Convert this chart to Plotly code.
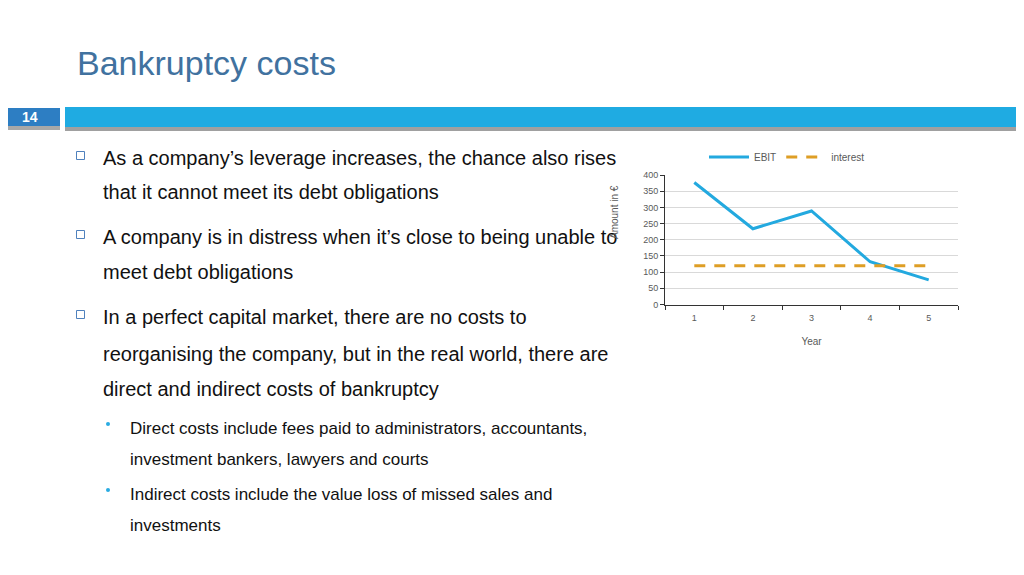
import plotly.graph_objects as go

# ---- data ----
years = ["1", "2", "3", "4", "5"]
ebit = [377, 234, 289, 132, 76]
interest = [120, 120, 120, 120, 120]

title_text = "Bankruptcy costs"
slide_no = "14"
y_title = "Amount in €"
x_title = "Year"
main_lines = [
    ("As a company’s leverage increases, the chance also rises", True),
    ("that it cannot meet its debt obligations", False),
    ("A company is in distress when it’s close to being unable to", True),
    ("meet debt obligations", False),
    ("In a perfect capital market, there are no costs to", True),
    ("reorganising the company, but in the real world, there are", False),
    ("direct and indirect costs of bankruptcy", False),
]
main_centers = [158, 192, 237, 272, 317, 354, 389]
sub_lines = [
    ("Direct costs include fees paid to administrators, accountants,", True),
    ("investment bankers, lawyers and courts", False),
    ("Indirect costs include the value loss of missed sales and", True),
    ("investments", False),
]
sub_centers = [428, 459, 494, 525]

W, H = 1024, 575
OFF = 8  # page body margin offset
def px(x):
    return (x - OFF) / W
def py(y):
    return 1 - (y - OFF) / H

FONT = "Liberation Sans, Arial, sans-serif"

fig = go.Figure()
fig.add_trace(go.Scatter(x=years, y=ebit, name="EBIT", mode="lines",
                         line=dict(color="#23A9DF", width=3)))
fig.add_trace(go.Scatter(x=years, y=interest, name="interest", mode="lines",
                         line=dict(color="#DE9E25", width=3, dash="11px,9px")))

shapes = []
# header bars
shapes.append(dict(type="rect", xref="paper", yref="paper", x0=px(0), x1=px(60), y0=py(130), y1=py(125),
                   fillcolor="#A8A8A8", line=dict(width=0), layer="below"))
shapes.append(dict(type="rect", xref="paper", yref="paper", x0=px(65), x1=px(1021), y0=py(131), y1=py(126),
                   fillcolor="#A0A0A0", line=dict(width=0), layer="below"))
shapes.append(dict(type="rect", xref="paper", yref="paper", x0=px(0), x1=px(60), y0=py(126), y1=py(108),
                   fillcolor="#2D7EC3", line=dict(width=0), layer="below"))
shapes.append(dict(type="rect", xref="paper", yref="paper", x0=px(65), x1=px(1021), y0=py(127), y1=py(107),
                   fillcolor="#1FABE2", line=dict(width=0), layer="below"))

annotations = []
annotations.append(dict(text=title_text, x=px(75), y=py(63), xref="paper", yref="paper",
                        xanchor="left", yanchor="middle", showarrow=False,
                        font=dict(family=FONT, size=34, color="#41729F")))
annotations.append(dict(text="<b>" + slide_no + "</b>", x=px(30), y=py(117), xref="paper", yref="paper",
                        xanchor="center", yanchor="middle", showarrow=False,
                        font=dict(family=FONT, size=14, color="white")))

for (txt, bullet), cy in zip(main_lines, main_centers):
    annotations.append(dict(text=txt, x=px(101), y=py(cy), xref="paper", yref="paper",
                            xanchor="left", yanchor="middle", showarrow=False,
                            font=dict(family=FONT, size=20, color="#111111")))
    if bullet:
        shapes.append(dict(type="rect", xref="paper", yref="paper",
                           x0=px(76.5), x1=px(84.5), y0=py(cy - 6.5), y1=py(cy + 1.5),
                           line=dict(color="#4F81BD", width=1), fillcolor="white"))

for (txt, bullet), cy in zip(sub_lines, sub_centers):
    annotations.append(dict(text=txt, x=px(128), y=py(cy), xref="paper", yref="paper",
                            xanchor="left", yanchor="middle", showarrow=False,
                            font=dict(family=FONT, size=17, color="#111111")))
    if bullet:
        shapes.append(dict(type="circle", xref="paper", yref="paper",
                           x0=px(106), x1=px(110), y0=py(cy - 6), y1=py(cy - 2),
                           line=dict(width=0), fillcolor="#29ABE2"))

# y-axis title (placed as in the reference, above the plot centre)
annotations.append(dict(text=y_title, x=px(615), y=py(212), xref="paper", yref="paper",
                        xanchor="center", yanchor="middle", showarrow=False, textangle=-90,
                        font=dict(family=FONT, size=10, color="#595959")))

fig.update_layout(
    width=W, height=H,
    margin=dict(l=0, r=0, t=0, b=0),
    paper_bgcolor="white", plot_bgcolor="white",
    font=dict(family=FONT, size=9, color="#595959"),
    shapes=shapes, annotations=annotations,
    showlegend=True,
    legend=dict(orientation="h", x=px(704), y=py(157), xanchor="left", yanchor="middle",
                font=dict(family=FONT, size=10, color="#595959"),
                bgcolor="rgba(0,0,0,0)", itemwidth=40, tracegroupgap=0),
    xaxis=dict(domain=[px(665), px(958)], type="category", tickson="boundaries",
               range=[-0.5, 4.5],
               ticks="outside", ticklen=4, tickcolor="#333333", ticklabelstandoff=5,
               showline=True, linecolor="#333333", linewidth=1,
               showgrid=False, zeroline=False,
               tickfont=dict(family=FONT, size=9, color="#595959"),
               title=dict(text=x_title, standoff=15, font=dict(family=FONT, size=10, color="#595959")),
               automargin=False, fixedrange=True),
    yaxis=dict(domain=[py(304.5), py(175)], range=[0, 400], dtick=50,
               ticks="outside", ticklen=4, tickcolor="#333333",
               showline=True, linecolor="#333333", linewidth=1,
               showgrid=True, gridcolor="#D9D9D9", gridwidth=1, zeroline=False,
               tickfont=dict(family=FONT, size=9, color="#595959"),
               automargin=False, fixedrange=True),
)

fig.write_html("out.html")
